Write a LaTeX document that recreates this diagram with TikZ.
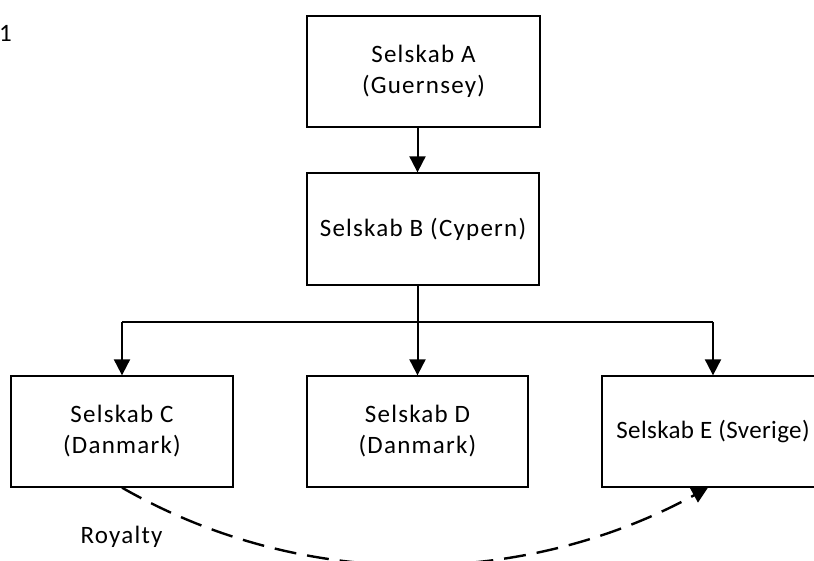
\documentclass[tikz,border=0pt]{standalone}
\usepackage{fontspec}
\setmainfont{Carlito}[LetterSpace=5]
\newfontfamily\tightfont{Carlito}[LetterSpace=1.5]
\usetikzlibrary{arrows.meta}
\begin{document}
\begin{tikzpicture}[x=1pt,y=-1pt,
  txt/.style={font=\fontsize{25}{31}\selectfont},
  box/.style={draw, line width=1.3pt, minimum width=222pt, minimum height=111pt,
              align=center, inner sep=0pt, txt},
  link/.style={line width=2pt},
  arr/.style={link, -{Triangle[length=16pt,width=16pt]}},
  royalty/.style={line width=2.4pt, dash pattern=on 22pt off 11pt,
                  -{Triangle[length=16pt,width=16pt]}}]
\useasboundingbox (0,0) rectangle (814,561);

% page number
\node[txt, anchor=base west, inner sep=0pt] (pg) at (-1,42) {1};

% companies
\node[box, minimum width=233pt] (A) at (423.5,71.5) {Selskab A\\(Guernsey)};
\node[box, minimum width=232pt, minimum height=112pt] (B) at (423,229) {Selskab B (Cypern)};
\node[box] (C) at (122,431.5) {Selskab C\\(Danmark)};
\node[box, minimum width=221pt] (D) at (417.5,431.5) {Selskab D\\(Danmark)};
\node[box, font=\tightfont\fontsize{25}{31}\selectfont] (E) at (713,431.5) {Selskab E (Sverige)};

% ownership
\coordinate (lev) at (0,322);
\draw[arr] (A.south -| D.north) -- (B.north -| D.north);
\draw[link] (B.south -| D.north) -- (D.north |- lev);
\draw[link] (C.north |- lev) -- (E.north |- lev);
\draw[arr] (C.north |- lev) -- (C.north);
\draw[arr] (D.north |- lev) -- (D.north);
\draw[arr] (E.north |- lev) -- (E.north);

% royalty flow
\draw[royalty] (C.south) .. controls (310,595) and (530,585) .. ([xshift=-5pt]E.south);
\node[txt, anchor=base] (roy) at (121.5,543) {Royalty};
\end{tikzpicture}
\end{document}
